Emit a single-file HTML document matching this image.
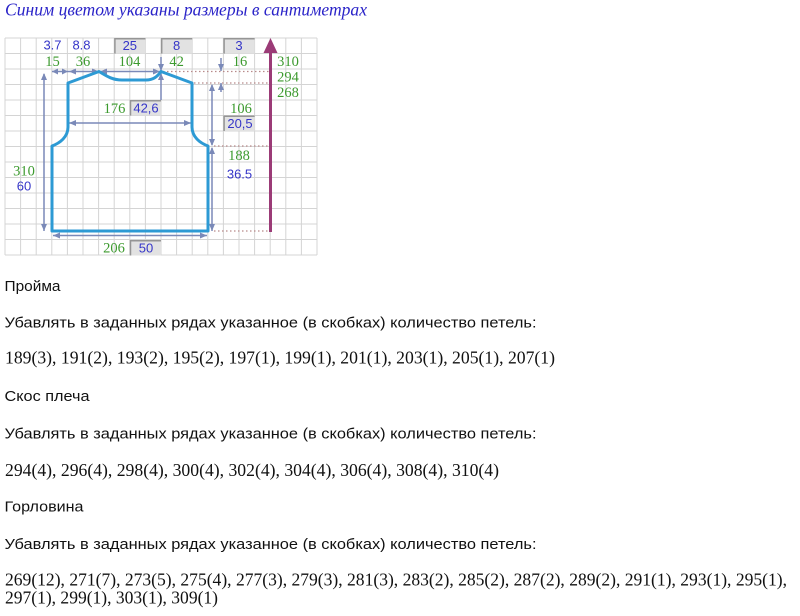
<!DOCTYPE html>
<html><head><meta charset="utf-8"><style>
html,body{margin:0;padding:0;background:#fff;}
svg{display:block;}
.g{font-family:"Liberation Serif","Noto Serif CJK SC",serif;font-size:14.5px;fill:#3c9a2e;text-anchor:middle;}
.b{font-family:"Liberation Sans","Noto Sans CJK SC",sans-serif;font-size:13px;fill:#3535c8;text-anchor:middle;}
.h{font-family:"Liberation Sans","Noto Sans CJK SC",sans-serif;font-size:15px;fill:#111;}
.n{font-family:"Liberation Serif","Noto Serif CJK SC",serif;font-size:17.65px;fill:#111;}
</style></head><body>
<svg width="800" height="616" viewBox="0 0 800 616" xmlns="http://www.w3.org/2000/svg">
<rect width="800" height="616" fill="#fff"/>
<text x="5" y="15.5" font-family="Liberation Serif, serif" font-style="italic" font-size="17.5" fill="#2a23c8" textLength="362" lengthAdjust="spacingAndGlyphs">Синим цветом указаны размеры в сантиметрах</text>

<!-- grid -->
<g stroke="#d4d4d4" stroke-width="1">
<line x1="5" y1="38" x2="5" y2="255"/><line x1="20.6" y1="38" x2="20.6" y2="255"/><line x1="36.2" y1="38" x2="36.2" y2="255"/><line x1="51.8" y1="38" x2="51.8" y2="255"/><line x1="67.4" y1="38" x2="67.4" y2="255"/><line x1="83" y1="38" x2="83" y2="255"/><line x1="98.6" y1="38" x2="98.6" y2="255"/><line x1="114.2" y1="38" x2="114.2" y2="255"/><line x1="129.8" y1="38" x2="129.8" y2="255"/><line x1="145.4" y1="38" x2="145.4" y2="255"/><line x1="161" y1="38" x2="161" y2="255"/><line x1="176.6" y1="38" x2="176.6" y2="255"/><line x1="192.2" y1="38" x2="192.2" y2="255"/><line x1="207.8" y1="38" x2="207.8" y2="255"/><line x1="223.4" y1="38" x2="223.4" y2="255"/><line x1="239" y1="38" x2="239" y2="255"/><line x1="254.6" y1="38" x2="254.6" y2="255"/><line x1="270.2" y1="38" x2="270.2" y2="255"/><line x1="285.8" y1="38" x2="285.8" y2="255"/><line x1="301.4" y1="38" x2="301.4" y2="255"/><line x1="317" y1="38" x2="317" y2="255"/>
<line x1="5" y1="38" x2="317" y2="38"/><line x1="5" y1="53.5" x2="317" y2="53.5"/><line x1="5" y1="69" x2="317" y2="69"/><line x1="5" y1="84.5" x2="317" y2="84.5"/><line x1="5" y1="100" x2="317" y2="100"/><line x1="5" y1="115.5" x2="317" y2="115.5"/><line x1="5" y1="131" x2="317" y2="131"/><line x1="5" y1="146.5" x2="317" y2="146.5"/><line x1="5" y1="162" x2="317" y2="162"/><line x1="5" y1="177.5" x2="317" y2="177.5"/><line x1="5" y1="193" x2="317" y2="193"/><line x1="5" y1="208.5" x2="317" y2="208.5"/><line x1="5" y1="224" x2="317" y2="224"/><line x1="5" y1="239.5" x2="317" y2="239.5"/><line x1="5" y1="255" x2="317" y2="255"/>
</g>

<!-- grey boxes -->
<g>
<rect x="114.2" y="38" width="31.2" height="15.5" fill="#e2e2e2"/>
<rect x="161" y="38" width="31.2" height="15.5" fill="#e2e2e2"/>
<rect x="223.4" y="38" width="31.2" height="15.5" fill="#e2e2e2"/>
<rect x="129.8" y="100" width="31.2" height="15.5" fill="#e2e2e2"/>
<rect x="223.4" y="115.5" width="31.2" height="15.5" fill="#e2e2e2"/>
<rect x="129.8" y="240" width="31.2" height="15.5" fill="#e2e2e2"/>
</g>
<g stroke="#959595" stroke-width="1.5" fill="none">
<polyline points="114.9,53.5 114.9,38.7 145.4,38.7"/>
<polyline points="161.7,53.5 161.7,38.7 192.2,38.7"/>
<polyline points="224.1,53.5 224.1,38.7 254.6,38.7"/>
<polyline points="130.5,115.5 130.5,100.7 161,100.7"/>
<polyline points="224.1,131 224.1,116.2 254.6,116.2"/>
<polyline points="130.5,255.5 130.5,240.7 161,240.7"/>
</g>

<!-- dotted lines -->
<g stroke="#b88a8a" stroke-width="1.2" stroke-dasharray="1.5 2.5" fill="none">
<line x1="163" y1="71.5" x2="270" y2="71.5"/>
<line x1="194" y1="83" x2="270" y2="83"/>
<line x1="214" y1="146" x2="270" y2="146"/>
<line x1="214" y1="231" x2="270" y2="231"/>
</g>

<!-- dimension lines -->
<g stroke="#7a89b8" stroke-width="1.5" fill="none">
<line x1="52" y1="71.5" x2="68" y2="71.5"/>
<line x1="68" y1="71.5" x2="99" y2="71.5"/>
<line x1="99" y1="71.5" x2="161" y2="71.5"/>
<line x1="69" y1="123" x2="191" y2="123"/>
<line x1="53" y1="235.5" x2="207" y2="235.5"/>
<line x1="44" y1="74" x2="44" y2="231"/>
<line x1="212" y1="85" x2="212" y2="145"/>
<line x1="212" y1="148" x2="212" y2="231"/>
<line x1="161" y1="57" x2="161" y2="71"/>
<line x1="161" y1="73" x2="161" y2="100"/>
<line x1="221" y1="58" x2="221" y2="71"/>
<line x1="221" y1="83" x2="221" y2="92"/>
</g>
<g fill="#7a89b8">
<polygon points="52,71.5 58,68.5 58,74.5"/><polygon points="68,71.5 62,68.5 62,74.5"/>
<polygon points="69,71.5 76,68.5 76,74.5"/><polygon points="99,71.5 92,68.5 92,74.5"/>
<polygon points="100,71.5 107,68.5 107,74.5"/><polygon points="160,71.5 153,68.5 153,74.5"/>
<polygon points="69,123 76,120 76,126"/><polygon points="191,123 184,120 184,126"/>
<polygon points="53,235.5 60,232.5 60,238.5"/><polygon points="207,235.5 200,232.5 200,238.5"/>
<polygon points="44,73 41,80 47,80"/><polygon points="44,231 41,224 47,224"/>
<polygon points="212,84 209,91 215,91"/><polygon points="212,146 209,139 215,139"/>
<polygon points="212,147 209,154 215,154"/><polygon points="212,231 209,224 215,224"/>
<polygon points="161,71 158,64 164,64"/><polygon points="161,73 158,80 164,80"/>
<polygon points="221,71 218,64 224,64"/><polygon points="221,83 218,90 224,90"/>
</g>

<!-- purple arrow -->
<line x1="270.5" y1="232" x2="270.5" y2="50" stroke="#9b3b77" stroke-width="3"/>
<polygon points="270.5,38 263.5,53 277.5,53" fill="#9b3b77"/>

<!-- garment outline -->
<path d="M52,231 L208,231 L208,146 C200,143 192,137 192,127 L192,83 L161,71.5 C157,77 153,80 146,80 L122,80 C113,80 108,77 99,71.5 L68,83 L68,127 C68,137 60,143 52,146 Z" fill="none" stroke="#2d9ad4" stroke-width="3" stroke-linejoin="round"/>

<!-- labels -->
<text class="b" x="52.5" y="49.5">3.7</text>
<text class="b" x="81.5" y="49.5">8.8</text>
<text class="b" x="129.8" y="50">25</text>
<text class="b" x="176.6" y="50">8</text>
<text class="b" x="239" y="50">3</text>
<text class="g" x="52.5" y="66">15</text>
<text class="g" x="83" y="66">36</text>
<text class="g" x="129.5" y="66">104</text>
<text class="g" x="176.6" y="66">42</text>
<text class="g" x="240" y="66">16</text>
<text class="g" x="288" y="66">310</text>
<text class="g" x="288" y="81.5">294</text>
<text class="g" x="288" y="97">268</text>
<text class="g" x="114.5" y="113">176</text>
<text class="b" x="146" y="112.5">42,6</text>
<text class="g" x="241" y="113">106</text>
<text class="b" x="240" y="128">20,5</text>
<text class="g" x="239" y="160">188</text>
<text class="b" x="239.5" y="178.5">36.5</text>
<text class="g" x="24" y="175.5">310</text>
<text class="b" x="24" y="190.5">60</text>
<text class="g" x="114" y="252.5">206</text>
<text class="b" x="146" y="252.5">50</text>

<!-- text body -->
<text class="h" x="4.5" y="291" textLength="56" lengthAdjust="spacingAndGlyphs">Пройма</text>
<text class="h" x="4.5" y="327.5" textLength="532" lengthAdjust="spacingAndGlyphs">Убавлять в заданных рядах указанное (в скобках) количество петель:</text>
<text class="n" x="5" y="363.5" textLength="550" lengthAdjust="spacingAndGlyphs">189(3), 191(2), 193(2), 195(2), 197(1), 199(1), 201(1), 203(1), 205(1), 207(1)</text>
<text class="h" x="4.5" y="401" textLength="85" lengthAdjust="spacingAndGlyphs">Скос плеча</text>
<text class="h" x="4.5" y="438.5" textLength="532" lengthAdjust="spacingAndGlyphs">Убавлять в заданных рядах указанное (в скобках) количество петель:</text>
<text class="n" x="5" y="476" textLength="494" lengthAdjust="spacingAndGlyphs">294(4), 296(4), 298(4), 300(4), 302(4), 304(4), 306(4), 308(4), 310(4)</text>
<text class="h" x="4.5" y="511.5" textLength="79" lengthAdjust="spacingAndGlyphs">Горловина</text>
<text class="h" x="4.5" y="548.8" textLength="532" lengthAdjust="spacingAndGlyphs">Убавлять в заданных рядах указанное (в скобках) количество петель:</text>
<text class="n" x="5" y="585.7" textLength="782" lengthAdjust="spacingAndGlyphs">269(12), 271(7), 273(5), 275(4), 277(3), 279(3), 281(3), 283(2), 285(2), 287(2), 289(2), 291(1), 293(1), 295(1),</text>
<text class="n" x="5" y="603.5" textLength="213" lengthAdjust="spacingAndGlyphs">297(1), 299(1), 303(1), 309(1)</text>
</svg>
</body></html>
